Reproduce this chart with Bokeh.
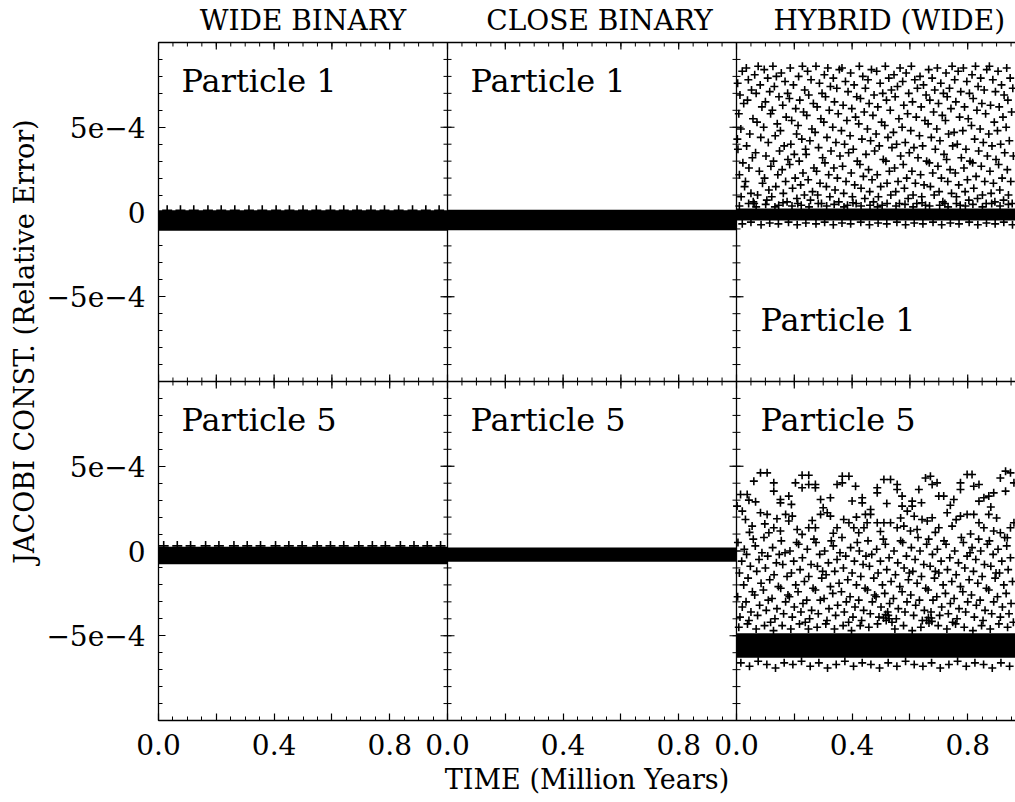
import math
from bokeh.plotting import figure
from bokeh.models import Range1d, LinearAxis, FixedTicker, Span, Label
from bokeh.embed import file_html
from bokeh.resources import INLINE

# ------------------------------------------------------------------ data
# time in million years, Jacobi-constant relative error in units of 1e-4
UNIT = 1e-4

column_titles = ["WIDE BINARY", "CLOSE BINARY", "HYBRID (WIDE)"]
row_labels = ["Particle 1", "Particle 5"]
x_axis_title = "TIME (Million Years)"
y_axis_title = "JACOBI CONST. (Relative Error)"
x_tick_labels = ["0.0", "", "0.4", "", "0.8"]            # per panel, ticks every 0.2
y_tick_values = [-5.0, 0.0, 5.0]
y_tick_labels = ["\u22125e\u22124", "0", "5e\u22124"]

# dense (saturated) bands: time span, lower / upper envelope
band_t = [0.0, 1.0]
wide_p1_low, wide_p1_high = [-1.1, -1.1], [0.1, 0.1]
close_p1_low, close_p1_high = [-1.08, -1.08], [0.13, 0.13]
hybrid_p1_low, hybrid_p1_high = [-0.5, -0.5], [0.2, 0.2]
wide_p5_low, wide_p5_high = [-0.78, -0.78], [0.25, 0.25]
close_p5_low, close_p5_high = [-0.63, -0.63], [0.2, 0.2]
hybrid_p5_low, hybrid_p5_high = [-6.3, -6.3], [-4.85, -4.85]

# crests on top of the wide-binary bands
wide_p1_crest_t = [0.030, 0.076, 0.122, 0.171, 0.217, 0.264, 0.313, 0.359, 0.407, 0.453, 0.500,
                   0.546, 0.595, 0.641, 0.687, 0.735, 0.782, 0.831, 0.879, 0.925, 0.971]
wide_p1_crest_y = [0.1] * len(wide_p1_crest_t)
wide_p5_crest_t = [0.018, 0.065, 0.111, 0.163, 0.209, 0.261, 0.307, 0.353, 0.405, 0.451, 0.497,
                   0.549, 0.595, 0.641, 0.693, 0.740, 0.785, 0.837, 0.884, 0.930, 0.976]
wide_p5_crest_y = [0.3] * len(wide_p5_crest_t)

# hybrid (wide), particle 1: scattered points
hybrid_p1_points = [
    (0.004, 7.6), (0.012, 6.9), (0.020, 8.3), (0.008, 5.8), (0.025, 6.4), (0.015, 4.9), (0.005, 3.7), (0.022, 2.9), (0.010, 2.2), (0.028, 1.5), (0.016, 0.9), (0.003, 4.3),
    (0.034, 8.5), (0.041, 7.8), (0.052, 7.2), (0.038, 6.6), (0.057, 5.5), (0.046, 4.6), (0.035, 3.9), (0.055, 3.2), (0.043, 2.6), (0.031, 1.8), (0.050, 1.1), (0.058, 0.6),
    (0.063, 8.1), (0.075, 8.6), (0.082, 7.5), (0.068, 7.0), (0.088, 6.2), (0.071, 5.3), (0.084, 4.4), (0.066, 3.5), (0.079, 2.4), (0.090, 1.7), (0.073, 1.0), (0.061, 0.5),
    (0.096, 8.4), (0.108, 7.9), (0.115, 7.1), (0.100, 6.5), (0.118, 5.8), (0.094, 5.0), (0.110, 4.1), (0.102, 3.3), (0.119, 2.7), (0.097, 2.0), (0.112, 1.3), (0.105, 0.7),
    (0.126, 8.6), (0.138, 8.0), (0.131, 7.4), (0.147, 6.8), (0.124, 6.0), (0.141, 5.2), (0.134, 4.5), (0.149, 3.6), (0.128, 3.0), (0.143, 2.2), (0.136, 1.5), (0.122, 0.9), (0.146, 0.4),
    (0.155, 8.2), (0.168, 7.7), (0.177, 7.0), (0.160, 6.3), (0.172, 5.6), (0.152, 4.8), (0.165, 3.9), (0.178, 3.1), (0.158, 2.5), (0.170, 1.8), (0.162, 1.1), (0.175, 0.6),
    (0.186, 8.5), (0.197, 7.5), (0.183, 6.7), (0.205, 6.1), (0.191, 5.4), (0.208, 4.6), (0.188, 4.0), (0.200, 3.4), (0.184, 2.8), (0.203, 2.0), (0.194, 1.4), (0.209, 0.8),
    (0.215, 8.0), (0.228, 8.6), (0.236, 7.2), (0.219, 6.6), (0.232, 5.9), (0.213, 5.1), (0.226, 4.3), (0.239, 3.7), (0.217, 3.0), (0.230, 2.3), (0.222, 1.6), (0.235, 1.0), (0.212, 0.5),
    (0.246, 8.3), (0.258, 7.8), (0.250, 6.9), (0.266, 6.4), (0.243, 5.7), (0.261, 4.9), (0.254, 4.2), (0.241, 3.4), (0.268, 2.6), (0.248, 1.9), (0.263, 1.2), (0.256, 0.7),
    (0.275, 8.6), (0.287, 7.6), (0.296, 7.0), (0.279, 6.2), (0.292, 5.5), (0.272, 4.7), (0.284, 3.8), (0.298, 3.2), (0.277, 2.4), (0.289, 1.7), (0.281, 1.0), (0.294, 0.5),
    (0.304, 8.1), (0.316, 8.5), (0.325, 7.4), (0.308, 6.8), (0.321, 6.0), (0.302, 5.3), (0.313, 4.4), (0.327, 3.6), (0.306, 2.9), (0.319, 2.2), (0.311, 1.5), (0.323, 0.9),
    (0.335, 7.9), (0.347, 7.3), (0.356, 8.4), (0.339, 6.5), (0.352, 5.8), (0.333, 5.0), (0.344, 4.1), (0.358, 3.3), (0.337, 2.6), (0.349, 2.0), (0.341, 1.3), (0.354, 0.6),
    (0.365, 8.5), (0.377, 7.7), (0.386, 7.1), (0.369, 6.3), (0.382, 5.4), (0.363, 4.8), (0.374, 4.0), (0.388, 3.5), (0.367, 2.7), (0.379, 1.8), (0.371, 1.1), (0.384, 0.4),
    (0.395, 8.2), (0.407, 7.5), (0.416, 6.8), (0.399, 6.1), (0.412, 5.6), (0.393, 4.5), (0.404, 3.7), (0.418, 3.0), (0.397, 2.3), (0.409, 1.6), (0.401, 0.9), (0.414, 0.5),
    (0.425, 8.6), (0.437, 8.0), (0.446, 7.3), (0.429, 6.7), (0.442, 5.9), (0.423, 5.2), (0.434, 4.3), (0.448, 3.4), (0.427, 2.8), (0.439, 2.1), (0.431, 1.4), (0.444, 0.8),
    (0.455, 7.8), (0.467, 8.4), (0.476, 6.9), (0.459, 6.4), (0.472, 5.7), (0.453, 4.9), (0.464, 4.2), (0.478, 3.6), (0.457, 2.5), (0.469, 1.9), (0.461, 1.2), (0.474, 0.6),
    (0.485, 8.3), (0.497, 7.6), (0.506, 7.0), (0.489, 6.2), (0.502, 5.3), (0.483, 4.6), (0.494, 3.9), (0.508, 3.1), (0.487, 2.2), (0.499, 1.5), (0.491, 0.9), (0.504, 0.4),
    (0.515, 8.6), (0.527, 7.9), (0.536, 7.2), (0.519, 6.6), (0.532, 6.0), (0.513, 5.1), (0.524, 4.4), (0.538, 3.8), (0.517, 3.0), (0.529, 2.4), (0.521, 1.7), (0.534, 1.0),
    (0.545, 8.1), (0.557, 7.4), (0.566, 8.5), (0.549, 6.8), (0.562, 5.5), (0.543, 4.7), (0.554, 4.0), (0.568, 3.3), (0.547, 2.6), (0.559, 1.8), (0.551, 1.2), (0.564, 0.5),
    (0.575, 7.7), (0.587, 8.2), (0.596, 7.0), (0.579, 6.3), (0.592, 5.8), (0.573, 5.0), (0.584, 4.1), (0.598, 3.5), (0.577, 2.8), (0.589, 2.0), (0.581, 1.4), (0.594, 0.8),
    (0.605, 8.6), (0.617, 7.8), (0.626, 7.3), (0.609, 6.5), (0.622, 5.6), (0.603, 4.8), (0.614, 3.8), (0.628, 3.2), (0.607, 2.4), (0.619, 1.7), (0.611, 1.0), (0.624, 0.5),
    (0.635, 8.0), (0.647, 7.5), (0.656, 6.9), (0.639, 6.2), (0.652, 5.4), (0.633, 4.5), (0.644, 3.9), (0.658, 3.0), (0.637, 2.2), (0.649, 1.6), (0.641, 0.9), (0.654, 0.4),
    (0.665, 8.4), (0.677, 7.9), (0.686, 7.2), (0.669, 6.6), (0.682, 5.9), (0.663, 5.2), (0.674, 4.4), (0.688, 3.7), (0.667, 2.9), (0.679, 2.3), (0.671, 1.5), (0.684, 1.0),
    (0.695, 8.5), (0.707, 7.6), (0.716, 7.0), (0.699, 6.4), (0.712, 5.7), (0.693, 4.9), (0.704, 4.2), (0.718, 3.4), (0.697, 2.7), (0.709, 2.0), (0.701, 1.2), (0.714, 0.6),
    (0.725, 8.2), (0.737, 7.3), (0.746, 8.6), (0.729, 6.8), (0.742, 6.1), (0.723, 5.4), (0.734, 4.6), (0.748, 3.9), (0.727, 3.1), (0.739, 2.5), (0.731, 1.8), (0.744, 1.1), (0.721, 0.5),
    (0.755, 7.8), (0.767, 8.3), (0.776, 7.1), (0.759, 6.5), (0.772, 5.6), (0.753, 4.7), (0.764, 4.0), (0.778, 3.2), (0.757, 2.3), (0.769, 1.6), (0.761, 0.9), (0.774, 0.4),
    (0.785, 8.5), (0.797, 7.7), (0.806, 7.0), (0.789, 6.2), (0.802, 5.5), (0.783, 4.8), (0.794, 3.7), (0.808, 3.0), (0.787, 2.6), (0.799, 1.9), (0.791, 1.2), (0.804, 0.7),
    (0.815, 8.1), (0.827, 8.6), (0.836, 7.4), (0.819, 6.7), (0.832, 6.0), (0.813, 5.1), (0.824, 4.3), (0.838, 3.6), (0.817, 2.9), (0.829, 2.1), (0.821, 1.4), (0.834, 0.8),
    (0.845, 7.9), (0.857, 7.2), (0.866, 8.4), (0.849, 6.4), (0.862, 5.8), (0.843, 4.9), (0.854, 4.1), (0.868, 3.3), (0.847, 2.7), (0.859, 1.8), (0.851, 1.0), (0.864, 0.5),
    (0.875, 8.6), (0.887, 7.8), (0.896, 7.1), (0.879, 6.3), (0.892, 5.3), (0.873, 4.6), (0.884, 3.9), (0.898, 3.1), (0.877, 2.4), (0.889, 1.7), (0.881, 1.1), (0.894, 0.6),
    (0.905, 8.3), (0.917, 7.5), (0.926, 6.9), (0.909, 6.2), (0.922, 5.6), (0.903, 4.8), (0.914, 4.0), (0.928, 3.5), (0.907, 2.8), (0.919, 2.0), (0.911, 1.3), (0.924, 0.7),
    (0.935, 8.5), (0.947, 7.9), (0.956, 7.3), (0.939, 6.6), (0.952, 5.9), (0.933, 5.0), (0.944, 4.2), (0.958, 3.3), (0.937, 2.5), (0.949, 1.8), (0.941, 1.0), (0.954, 0.5),
    # fringe of the dense band
    (0.010, 0.35), (0.042, 0.5), (0.068, 0.3), (0.101, 0.45), (0.133, 0.3), (0.161, 0.55), (0.192, 0.35), (0.224, 0.4), (0.251, 0.3), (0.283, 0.5),
    (0.312, 0.35), (0.338, 0.45), (0.372, 0.3), (0.403, 0.55), (0.431, 0.35), (0.462, 0.4), (0.488, 0.3), (0.521, 0.5), (0.552, 0.35), (0.583, 0.45),
    (0.611, 0.3), (0.642, 0.55), (0.668, 0.35), (0.703, 0.4), (0.732, 0.3), (0.761, 0.5), (0.792, 0.35), (0.818, 0.45), (0.851, 0.3), (0.883, 0.5),
    (0.912, 0.35), (0.941, 0.45),
    (0.020, -0.7), (0.050, -0.6), (0.085, -0.75), (0.115, -0.65), (0.145, -0.7), (0.180, -0.6), (0.210, -0.75), (0.240, -0.65), (0.275, -0.7), (0.305, -0.6),
    (0.335, -0.75), (0.365, -0.65), (0.395, -0.7), (0.430, -0.6), (0.460, -0.75), (0.490, -0.65), (0.520, -0.7), (0.555, -0.6), (0.585, -0.75), (0.615, -0.65),
    (0.645, -0.7), (0.680, -0.6), (0.710, -0.75), (0.740, -0.65), (0.770, -0.7), (0.805, -0.6), (0.835, -0.75), (0.865, -0.65), (0.895, -0.7), (0.925, -0.6),
    (0.955, -0.75),
]

# hybrid (wide), particle 5: scattered points
hybrid_p5_points = [
    # upper arches
    (0.014, 3.33), (0.037, 3.33), (0.060, 4.12), (0.083, 4.61), (0.106, 4.61), (0.129, 4.02), (0.129, 3.53), (0.152, 3.04), (0.152, 2.84),
    (0.181, 3.24), (0.204, 4.02), (0.227, 4.47), (0.250, 4.47), (0.227, 3.73), (0.250, 3.92), (0.273, 3.92), (0.273, 3.73), (0.291, 3.04),
    (0.325, 3.14), (0.348, 3.92), (0.366, 4.41), (0.389, 4.41), (0.366, 4.02), (0.412, 3.82), (0.435, 3.14), (0.435, 2.84), (0.446, 2.16),
    (0.464, 2.45), (0.487, 3.43), (0.487, 3.73), (0.510, 4.22), (0.533, 4.22), (0.556, 3.92), (0.556, 3.63), (0.573, 3.24), (0.573, 2.65),
    (0.591, 2.35), (0.608, 2.65), (0.608, 2.94), (0.631, 3.63), (0.654, 4.31), (0.671, 4.41), (0.677, 3.92), (0.694, 4.02), (0.700, 3.24),
    (0.717, 3.24), (0.752, 3.04), (0.775, 4.02), (0.775, 3.63), (0.798, 4.51), (0.815, 4.51), (0.821, 3.82), (0.839, 3.92), (0.839, 2.94),
    (0.856, 3.14), (0.873, 3.24), (0.890, 3.43), (0.913, 4.31), (0.931, 4.71), (0.948, 4.61), (0.931, 3.53), (0.960, 4.02),
    (0.002, 2.65), (0.043, 3.00), (0.066, 2.90), (0.190, 2.75), (0.300, 2.55), (0.400, 2.95), (0.520, 2.80), (0.640, 2.85), (0.740, 2.70), (0.880, 2.60),
    # second layer
    (0.020, 2.35), (0.031, 1.86), (0.054, 1.47), (0.083, 2.26), (0.106, 2.16), (0.112, 1.08), (0.129, 1.37), (0.152, 1.18), (0.170, 2.16),
    (0.181, 1.77), (0.193, 2.06), (0.210, 1.27), (0.227, 0.98), (0.250, 1.37), (0.273, 1.37), (0.291, 2.16), (0.314, 2.26), (0.325, 2.06),
    (0.348, 1.37), (0.371, 1.86), (0.389, 1.67), (0.406, 1.37), (0.423, 1.08), (0.441, 1.37), (0.452, 1.67), (0.464, 2.16), (0.487, 1.67),
    (0.510, 1.67), (0.533, 1.67), (0.556, 1.37), (0.579, 1.47), (0.602, 1.18), (0.625, 1.27), (0.642, 1.86), (0.660, 1.77), (0.677, 1.96),
    (0.700, 1.37), (0.729, 2.26), (0.746, 1.47), (0.775, 2.06), (0.798, 2.16), (0.821, 2.16), (0.839, 1.67), (0.856, 1.37), (0.873, 2.16),
    (0.890, 1.18), (0.913, 1.08), (0.937, 0.78), (0.948, 1.37), (0.960, 1.67),
    (0.045, 1.10), (0.098, 1.60), (0.140, 1.90), (0.262, 1.80), (0.335, 1.05), (0.415, 2.00), (0.498, 1.15), (0.568, 1.95), (0.615, 2.05),
    (0.688, 1.10), (0.760, 1.85), (0.810, 1.00), (0.900, 1.95),
    # middle lattice
    (0.005, 0.5), (0.018, -0.6), (0.010, -1.3), (0.025, -2.0), (0.004, -2.7), (0.020, -3.3), (0.012, -3.9), (0.027, 0.1),
    (0.035, -0.2), (0.048, -0.9), (0.040, -1.6), (0.055, -2.4), (0.033, -3.0), (0.050, -3.6), (0.043, -4.1), (0.058, 0.7),
    (0.065, 0.3), (0.078, -0.5), (0.070, -1.2), (0.085, -1.9), (0.063, -2.6), (0.080, -3.2), (0.073, -3.8), (0.088, -0.1),
    (0.095, 0.8), (0.108, -0.3), (0.100, -1.0), (0.115, -1.7), (0.093, -2.3), (0.110, -2.9), (0.103, -3.5), (0.118, -4.2),
    (0.125, 0.2), (0.138, -0.7), (0.130, -1.4), (0.145, -2.1), (0.123, -2.8), (0.140, -3.4), (0.133, -4.0), (0.148, -0.2),
    (0.155, 0.6), (0.168, -0.1), (0.160, -0.8), (0.175, -1.5), (0.153, -2.2), (0.170, -3.0), (0.163, -3.7), (0.178, -2.6),
    (0.185, 0.0), (0.198, -0.6), (0.190, -1.3), (0.205, -2.0), (0.183, -2.7), (0.200, -3.3), (0.193, -3.9), (0.208, 0.5),
    (0.215, 0.4), (0.228, -0.4), (0.220, -1.1), (0.235, -1.8), (0.213, -2.4), (0.230, -3.1), (0.223, -3.6), (0.238, -4.2),
    (0.245, 0.1), (0.258, -0.8), (0.250, -1.5), (0.265, -2.2), (0.243, -2.9), (0.260, -3.5), (0.253, -4.0), (0.268, 0.7),
    (0.275, 0.5), (0.288, -0.2), (0.280, -0.9), (0.295, -1.6), (0.273, -2.3), (0.290, -2.9), (0.283, -3.7), (0.298, -1.2),
    (0.305, 0.0), (0.318, -0.7), (0.310, -1.4), (0.325, -2.1), (0.303, -2.8), (0.320, -3.4), (0.313, -4.1), (0.328, 0.6),
    (0.335, 0.3), (0.348, -0.5), (0.340, -1.2), (0.355, -1.9), (0.333, -2.5), (0.350, -3.2), (0.343, -3.8), (0.358, -0.1),
    (0.365, 0.8), (0.378, -0.3), (0.370, -1.0), (0.385, -1.7), (0.363, -2.4), (0.380, -3.0), (0.373, -3.6), (0.388, -4.2),
    (0.395, 0.2), (0.408, -0.6), (0.400, -1.3), (0.415, -2.0), (0.393, -2.7), (0.410, -3.3), (0.403, -3.9), (0.418, 0.5),
    (0.425, 0.0), (0.438, -0.8), (0.430, -1.5), (0.445, -2.2), (0.423, -2.9), (0.440, -3.5), (0.433, -4.1), (0.448, -0.3),
    (0.455, 0.6), (0.468, -0.2), (0.460, -0.9), (0.475, -1.6), (0.453, -2.3), (0.470, -3.0), (0.463, -3.7), (0.478, -2.6),
    (0.485, 0.1), (0.498, -0.6), (0.490, -1.3), (0.505, -2.0), (0.483, -2.7), (0.500, -3.3), (0.493, -3.9), (0.508, 0.7),
    (0.515, 0.4), (0.528, -0.4), (0.520, -1.1), (0.535, -1.8), (0.513, -2.5), (0.530, -3.1), (0.523, -3.6), (0.538, -4.2),
    (0.545, 0.0), (0.558, -0.7), (0.550, -1.4), (0.565, -2.1), (0.543, -2.8), (0.560, -3.4), (0.553, -4.0), (0.568, 0.6),
    (0.575, 0.5), (0.588, -0.3), (0.580, -1.0), (0.595, -1.7), (0.573, -2.4), (0.590, -3.0), (0.583, -3.6), (0.598, -1.3),
    (0.605, 0.2), (0.618, -0.5), (0.610, -1.2), (0.625, -1.9), (0.603, -2.6), (0.620, -3.2), (0.613, -3.8), (0.628, 0.8),
    (0.635, 0.0), (0.648, -0.8), (0.640, -1.5), (0.655, -2.2), (0.633, -2.9), (0.650, -3.5), (0.643, -4.1), (0.658, 0.4),
    (0.665, 0.7), (0.678, -0.2), (0.670, -0.9), (0.685, -1.6), (0.663, -2.3), (0.680, -2.9), (0.673, -3.6), (0.688, -1.2),
    (0.695, 0.1), (0.708, -0.6), (0.700, -1.3), (0.715, -2.0), (0.693, -2.7), (0.710, -3.3), (0.703, -3.8), (0.718, 0.6),
    (0.725, 0.4), (0.738, -0.4), (0.730, -1.1), (0.745, -1.8), (0.723, -2.5), (0.740, -3.1), (0.733, -3.7), (0.748, -4.2),
    (0.755, 0.0), (0.768, -0.7), (0.760, -1.4), (0.775, -2.1), (0.753, -2.8), (0.770, -3.4), (0.763, -4.0), (0.778, 0.8),
    (0.785, 0.5), (0.798, -0.3), (0.790, -1.0), (0.805, -1.7), (0.783, -2.4), (0.800, -3.0), (0.793, -3.6), (0.808, -0.1),
    (0.815, 0.2), (0.828, -0.5), (0.820, -1.2), (0.835, -1.9), (0.813, -2.6), (0.830, -3.2), (0.823, -3.9), (0.838, 0.7),
    (0.845, 0.0), (0.858, -0.8), (0.850, -1.5), (0.865, -2.2), (0.843, -2.9), (0.860, -3.5), (0.853, -4.1), (0.868, 0.4),
    (0.875, 0.6), (0.888, -0.2), (0.880, -0.9), (0.895, -1.6), (0.873, -2.3), (0.890, -3.0), (0.883, -3.7), (0.898, -1.3),
    (0.905, 0.1), (0.918, -0.6), (0.910, -1.3), (0.925, -2.0), (0.903, -2.7), (0.920, -3.3), (0.913, -3.9), (0.928, 0.8),
    (0.935, 0.3), (0.948, -0.4), (0.940, -1.1), (0.955, -1.8), (0.933, -2.5), (0.950, -3.1), (0.943, -3.7), (0.958, -4.2),
    # small rings
    (0.509, -3.95), (0.516, -3.75), (0.525, -3.80), (0.528, -4.00), (0.518, -4.10),
    (0.658, -4.10), (0.664, -3.92), (0.674, -3.95), (0.676, -4.15), (0.666, -4.25),
    # fringe of the dense band
    (0.008, -4.5), (0.038, -4.3), (0.068, -4.6), (0.097, -4.4), (0.128, -4.7), (0.158, -4.4), (0.188, -4.6), (0.218, -4.3), (0.249, -4.6), (0.279, -4.5),
    (0.309, -4.3), (0.339, -4.6), (0.369, -4.4), (0.398, -4.7), (0.428, -4.4), (0.458, -4.5), (0.488, -4.3), (0.548, -4.6), (0.578, -4.4), (0.608, -4.7),
    (0.638, -4.5), (0.698, -4.4), (0.728, -4.6), (0.758, -4.3), (0.788, -4.5), (0.818, -4.7), (0.848, -4.4), (0.878, -4.6), (0.908, -4.3), (0.938, -4.5),
    (0.015, -6.6), (0.045, -6.8), (0.075, -6.5), (0.105, -6.7), (0.135, -6.9), (0.165, -6.6), (0.195, -6.7), (0.225, -6.5), (0.255, -6.8), (0.285, -6.6),
    (0.315, -6.9), (0.345, -6.7), (0.375, -6.5), (0.405, -6.8), (0.435, -6.6), (0.465, -6.7), (0.495, -6.9), (0.525, -6.6), (0.555, -6.8), (0.585, -6.5),
    (0.615, -6.7), (0.645, -6.8), (0.675, -6.6), (0.705, -6.9), (0.735, -6.7), (0.765, -6.5), (0.795, -6.8), (0.825, -6.6), (0.855, -6.7), (0.885, -6.9),
    (0.915, -6.6), (0.945, -6.8),
]

# ------------------------------------------------------------------ layout
FRAME_LEFT, FRAME_TOP = 158, 40            # canvas pixels
PANEL_W, PANEL_H = 289, 340                # pixels per panel (1 Myr, 2e-3)
FIG_W, FIG_H = 1015, 802
FRAME_W = FIG_W - FRAME_LEFT
FRAME_H = 2 * PANEL_H
BORDER_BOTTOM = FIG_H - FRAME_TOP - FRAME_H
XMAX = FRAME_W / PANEL_W
YLIM = 10 * UNIT

FONT = "DejaVu Serif"
INK = "black"

p = figure(width=FIG_W, height=FIG_H, output_backend="svg", toolbar_location=None,
           x_range=Range1d(0, XMAX), y_range=Range1d(-YLIM, 3 * YLIM),
           min_border_left=FRAME_LEFT, min_border_right=0,
           min_border_top=FRAME_TOP, min_border_bottom=BORDER_BOTTOM)
p.extra_x_ranges = {"c1": Range1d(-1, XMAX - 1), "c2": Range1d(-2, XMAX - 2)}
p.extra_y_ranges = {"top": Range1d(-3 * YLIM, YLIM)}
p.outline_line_color = None
p.xgrid.visible = False
p.ygrid.visible = False
p.background_fill_color = "white"
p.border_fill_color = "white"

xcols = ["default", "c1", "c2"]
yrows = ["top", "default"]


def canvas_x(px):
    return (px - FRAME_LEFT) / PANEL_W


def canvas_y(py):
    return -YLIM + (FRAME_TOP + FRAME_H - py) / FRAME_H * 4 * YLIM


# axes (global coordinates: panel column c occupies x in [c, c+1], rows stacked in y)
x_major = [round(0.2 * k, 1) for k in range(15)]
x_minor = [round(0.05 * k, 2) for k in range(int(XMAX / 0.05) + 1)]
x_labels = {t: x_tick_labels[i % 5] for i, t in enumerate(x_major)}
y_major = [v * UNIT for v in y_tick_values] + [(v + 20) * UNIT for v in y_tick_values]
y_minor = [k * UNIT for k in range(-10, 31)]
y_labels = dict(zip(y_major, y_tick_labels + y_tick_labels))


def style_axis(ax, labels, size="28px", standoff=10):
    ax.axis_line_color = INK
    ax.axis_line_width = 1.3
    ax.major_tick_in = 7
    ax.major_tick_out = 0
    ax.minor_tick_in = 4
    ax.minor_tick_out = 0
    ax.major_tick_line_color = INK
    ax.minor_tick_line_color = INK
    ax.major_tick_line_width = 1.2
    ax.minor_tick_line_width = 1.0
    ax.major_label_overrides = labels
    ax.major_label_text_font = FONT
    ax.major_label_text_color = INK
    ax.major_label_text_font_size = size
    ax.major_label_standoff = standoff


def text_only_axis(ax, labels, size, standoff):
    style_axis(ax, labels, size, standoff)
    ax.major_tick_in = 0
    ax.minor_tick_in = 0
    ax.major_tick_line_color = None
    ax.minor_tick_line_color = None


p.xaxis.ticker = FixedTicker(ticks=x_major, minor_ticks=x_minor)
style_axis(p.xaxis[0], x_labels, standoff=13)
p.xaxis.axis_label = x_axis_title
p.xaxis.axis_label_text_font = FONT
p.xaxis.axis_label_text_font_size = "27px"
p.xaxis.axis_label_text_font_style = "normal"
p.xaxis.axis_label_text_color = INK
p.xaxis.axis_label_standoff = 6

p.yaxis.ticker = FixedTicker(ticks=y_major, minor_ticks=y_minor)
style_axis(p.yaxis[0], y_labels, standoff=13)

# outer left axis carrying the y title, centred where the reference puts it
ytitle_pos = canvas_y(340)
ytitle_axis = LinearAxis(ticker=FixedTicker(ticks=[ytitle_pos], minor_ticks=[]))
text_only_axis(ytitle_axis, {ytitle_pos: y_axis_title}, "27px", 3)
ytitle_axis.axis_line_color = None
ytitle_axis.major_label_orientation = "vertical"
p.add_layout(ytitle_axis, "left")

# top axis carrying the three column titles
title_pos = [0.5, 1.526, 2.529]
title_axis = LinearAxis(ticker=FixedTicker(ticks=title_pos, minor_ticks=[]))
text_only_axis(title_axis, dict(zip(title_pos, column_titles)), "28px", 6)
p.add_layout(title_axis, "above")

# tick marks along the top edge and the panel dividers
top = 3 * YLIM
p.scatter(x=x_major, y=[top] * len(x_major), marker="dash", angle=math.pi / 2, size=14, line_color=INK, line_width=1.2)
p.scatter(x=x_minor, y=[top] * len(x_minor), marker="dash", angle=math.pi / 2, size=8, line_color=INK, line_width=1.0)
for loc in (1.0, 2.0):
    p.add_layout(Span(location=loc, dimension="height", line_color=INK, line_width=1.3))
    p.scatter(x=[loc] * len(y_major), y=y_major, marker="dash", size=14, line_color=INK, line_width=1.2)
    p.scatter(x=[loc] * len(y_minor), y=y_minor, marker="dash", size=8, line_color=INK, line_width=1.0)
p.add_layout(Span(location=YLIM, dimension="width", line_color=INK, line_width=1.3))
p.scatter(x=x_major, y=[YLIM] * len(x_major), marker="dash", angle=math.pi / 2, size=14, line_color=INK, line_width=1.2)
p.scatter(x=x_minor, y=[YLIM] * len(x_minor), marker="dash", angle=math.pi / 2, size=8, line_color=INK, line_width=1.0)

# ------------------------------------------------------------------ data glyphs
bands = {
    (0, 0): (wide_p1_low, wide_p1_high), (0, 1): (close_p1_low, close_p1_high), (0, 2): (hybrid_p1_low, hybrid_p1_high),
    (1, 0): (wide_p5_low, wide_p5_high), (1, 1): (close_p5_low, close_p5_high), (1, 2): (hybrid_p5_low, hybrid_p5_high),
}
for (r, c), (lo, hi) in bands.items():
    p.varea(x=band_t, y1=[v * UNIT for v in lo], y2=[v * UNIT for v in hi], fill_color=INK,
            x_range_name=xcols[c], y_range_name=yrows[r])

scatter_sets = [
    (0, 0, wide_p1_crest_t, wide_p1_crest_y, 10),
    (1, 0, wide_p5_crest_t, wide_p5_crest_y, 10),
    (0, 2, [t for t, _ in hybrid_p1_points], [v for _, v in hybrid_p1_points], 8),
    (1, 2, [t for t, _ in hybrid_p5_points], [v for _, v in hybrid_p5_points], 8),
]
for r, c, ts, vs, size in scatter_sets:
    p.scatter(x=ts, y=[v * UNIT for v in vs], marker="cross", size=size, line_color=INK, line_width=1.6,
              x_range_name=xcols[c], y_range_name=yrows[r])

# ------------------------------------------------------------------ panel labels
particle_pos = {(0, 0): (181, 79), (0, 1): (470, 79), (0, 2): (760, 318),
                (1, 0): (181, 419), (1, 1): (470, 419), (1, 2): (760, 419)}
for (r, c), (lx, ly) in particle_pos.items():
    p.add_layout(Label(x=canvas_x(lx), y=canvas_y(ly), text=row_labels[r], text_font=FONT, text_font_size="32px",
                       text_color=INK, text_align="left", text_baseline="alphabetic"))

open("out.html", "w").write(file_html(p, INLINE))
